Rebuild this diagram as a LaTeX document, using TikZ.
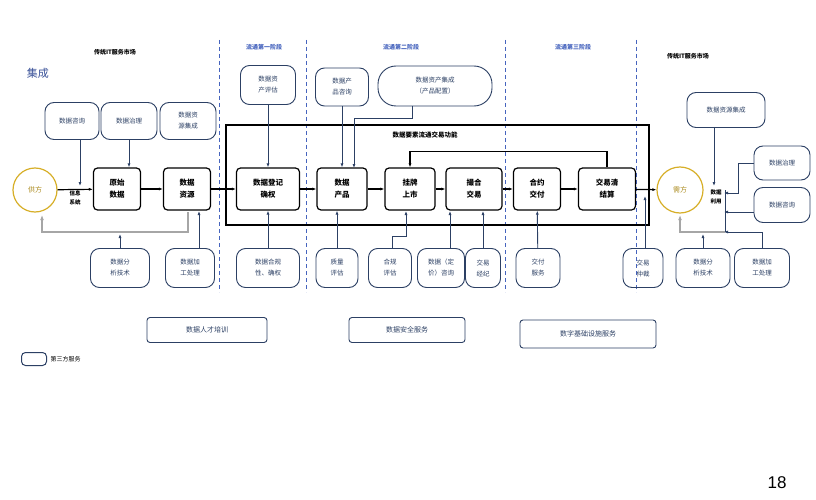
\documentclass[tikz,border=0pt]{standalone}
\usepackage{fontspec}
\setmainfont{Noto Sans CJK SC}
\setsansfont{Liberation Sans}
\usetikzlibrary{arrows.meta}
\definecolor{nb}{RGB}{44,64,100}
\definecolor{dl}{RGB}{70,100,190}
\definecolor{yl}{RGB}{215,175,40}
\begin{document}
\begin{tikzpicture}[x=1pt,y=-1pt,
 box/.style={draw=black,line width=1.2pt,rounded corners=4pt,align=center,font=\fontsize{7.5}{12}\selectfont\bfseries},
 bub/.style={draw=nb,line width=0.9pt,rounded corners=9pt,align=center,font=\fontsize{6.5}{11}\selectfont,text=nb},
 svc/.style={draw=nb,line width=0.9pt,rounded corners=3pt,align=center,font=\fontsize{7}{9}\selectfont,text=nb},
 ch/.style={-{Latex[length=4pt]},line width=1.2pt,black},
 ba/.style={-{Latex[length=4pt]},line width=0.9pt,nb},
 ga/.style={-{Latex[length=5pt]},line width=1.4pt,gray!70},
 dsh/.style={dl,dashed,line width=1pt,dash pattern=on 4pt off 3pt},
 lab/.style={font=\fontsize{6}{8}\selectfont\bfseries}]
\useasboundingbox (0,0) rectangle (816,500);
\fill[white] (0,0) rectangle (816,500);
% labels
\node[text=dl!80!black,font=\fontsize{11}{13}\selectfont] (jc) at (38,73) {集成};
\node[lab] (it1) at (115,52) {传统IT服务市场};
\node[lab,text=dl] (s1) at (264,47) {流通第一阶段};
\node[lab,text=dl] (s2) at (401,47) {流通第二阶段};
\node[lab,text=dl] (s3) at (573,47) {流通第三阶段};
\node[lab] (it2) at (688,56) {传统IT服务市场};
\foreach \x in {219,306,505,636} \draw[dsh] (\x,40) -- (\x,292);
% big box
\draw[line width=2pt] (226,125) rectangle (649,225);
\node[lab,font=\fontsize{6.5}{8}\selectfont\bfseries] (fn) at (425,135) {数据要素流通交易功能};
% circles
\node[circle,draw=yl,line width=1.2pt,minimum size=44pt,text=yl!80!black,font=\fontsize{7}{8}\selectfont] (gf) at (35,190) {供方};
\node[circle,draw=yl,line width=1.2pt,minimum size=46pt,text=yl!80!black,font=\fontsize{7}{8}\selectfont] (xf) at (680,190) {需方};
% chain
\node[box,minimum width=47pt,minimum height=42pt] (ys) at (117,189) {原始\\数据};
\node[box,minimum width=47pt,minimum height=42pt] (zy) at (187,189) {数据\\资源};
\node[box,minimum width=63pt,minimum height=42pt] (dj) at (268,189) {数据登记\\确权};
\node[box,minimum width=50pt,minimum height=42pt] (cp) at (342,189) {数据\\产品};
\node[box,minimum width=50pt,minimum height=42pt] (gp) at (410,189) {挂牌\\上市};
\node[box,minimum width=56pt,minimum height=42pt] (ch) at (474,189) {撮合\\交易};
\node[box,minimum width=47pt,minimum height=42pt] (hy) at (537,189) {合约\\交付};
\node[box,minimum width=57pt,minimum height=42pt] (js) at (607,189) {交易清\\结算};
\draw[ch] (gf) -- (ys);
\draw[ch] (ys) -- (zy);
\draw[ch] (zy) -- (dj);
\draw[ch] (dj) -- (cp);
\draw[ch] (cp) -- (gp);
\draw[ch] (gp) -- (ch);
\draw[ch] (ch) -- (hy);
\draw[ch] (hy) -- (js);
\draw[ch] (js) -- (xf);
\draw[ch] (js.north) -- ++(0,-16) -| (gp.north);
\node[lab,align=center,font=\fontsize{5.5}{9}\selectfont\bfseries] (xx) at (75,198) {信息\\系统};
\node[lab,align=center,font=\fontsize{5.5}{9}\selectfont\bfseries] (sl) at (716,197) {数据\\利用};
% top bubbles
\node[bub,minimum width=54pt,minimum height=37pt] (t1) at (72,121) {数据咨询};
\node[bub,minimum width=56pt,minimum height=37pt] (t2) at (129,121) {数据治理};
\node[bub,minimum width=56pt,minimum height=37pt] (t3) at (188,121) {数据资\\源集成};
\node[bub,minimum width=55pt,minimum height=39pt] (t4) at (268,85) {数据资\\产评估};
\node[bub,minimum width=53pt,minimum height=38pt] (t5) at (342,87) {数据产\\品咨询};
\node[bub,minimum width=114pt,minimum height=40pt,rounded corners=18pt] (t6) at (435,86) {数据资产集成\\（产品配置）};
\draw[ba] (80,140) -- (80,186);
\draw[ba] (t2.south) -- (t2.south|-ys.north);
\draw[ba] (t4) -- (dj);
\draw[ba] (t5) -- (t5.south|-cp.north);
\draw[ba] (412,106) -- (412,118) -- (354,118) -- (354,168);
% bottom bubbles
\node[bub,minimum width=59pt,minimum height=39pt] (b1) at (120,268) {数据分\\析技术};
\node[bub,minimum width=49pt,minimum height=39pt] (b2) at (190,268) {数据加\\工处理};
\node[bub,minimum width=63pt,minimum height=39pt] (b3) at (268,268) {数据合规\\性、确权};
\node[bub,minimum width=42pt,minimum height=39pt] (b4) at (337,268) {质量\\评估};
\node[bub,minimum width=43pt,minimum height=39pt] (b5) at (390,268) {合规\\评估};
\node[bub,minimum width=47pt,minimum height=39pt] (b6) at (441,268) {数据（定\\价）咨询};
\node[bub,minimum width=35pt,minimum height=39pt] (b7) at (483,268) {交易\\经纪};
\node[bub,minimum width=44pt,minimum height=39pt] (b8) at (538,268) {交付\\服务};
\node[bub,minimum width=40pt,minimum height=39pt] (b9) at (643,268) {交易\\仲裁};
\node[bub,minimum width=54pt,minimum height=39pt] (b10) at (703,268) {数据分\\析技术};
\node[bub,minimum width=55pt,minimum height=39pt] (b11) at (762,268) {数据加\\工处理};
\draw[ga] (188,212) -- (188,232) -- (42,232) -- (42,215);
\draw[ba] (b1.north) -- (120,234);
\draw[ba] (199,248) -- (199,211);
\draw[ba] (b3) -- (dj);
\draw[ba] (b4.north) -- (b4.north|-cp.south);
\draw[ba] (392,248) -- (392,236) -- (406,236) -- (406,211);
\draw[ba] (450,248) -- (450,211);
\draw[ba] (483,248) -- (483,211);
\draw[ba] (b8) -- (hy);
\draw[ba] (645,248) -- (645,196);
% right side
\node[bub,minimum width=78pt,minimum height=35pt] (r1) at (726,110) {数据资源集成};
\node[bub,minimum width=56pt,minimum height=34pt] (r2) at (782,163) {数据治理};
\node[bub,minimum width=56pt,minimum height=35pt] (r3) at (782,205) {数据咨询};
\draw[ba] (714,127) -- (714,186);
\draw[nb,line width=0.9pt] (725,190) -- (725,232);
\draw[ba] (r2.west) -- (738,163) -- (738,193) -- (724,193);
\draw[ba] (r3.west|-0,212) -- (724,212);
\draw[ba] (b11.north) -- (762,232) -- (724,232);
\draw[ga] (725,232) -- (680,232) -- (680,215);
\draw[ba] (b10.north) -- (703,234);
% services
\node[svc,minimum width=120pt,minimum height=25pt] (v1) at (207,330) {数据人才培训};
\node[svc,minimum width=116pt,minimum height=25pt] (v2) at (407,330) {数据安全服务};
\node[svc,minimum width=136pt,minimum height=28pt] (v3) at (588,334) {数字基础设施服务};
\node[draw=nb,line width=1pt,rounded corners=4pt,minimum width=25pt,minimum height=13pt] (lg) at (34,359) {};
\node[font=\fontsize{6}{8}\selectfont,anchor=west] (lgt) at (lg.east) {第三方服务};
\node[font=\sffamily\fontsize{17}{20}\selectfont] (pg) at (777,483) {18};
\end{tikzpicture}
\end{document}
